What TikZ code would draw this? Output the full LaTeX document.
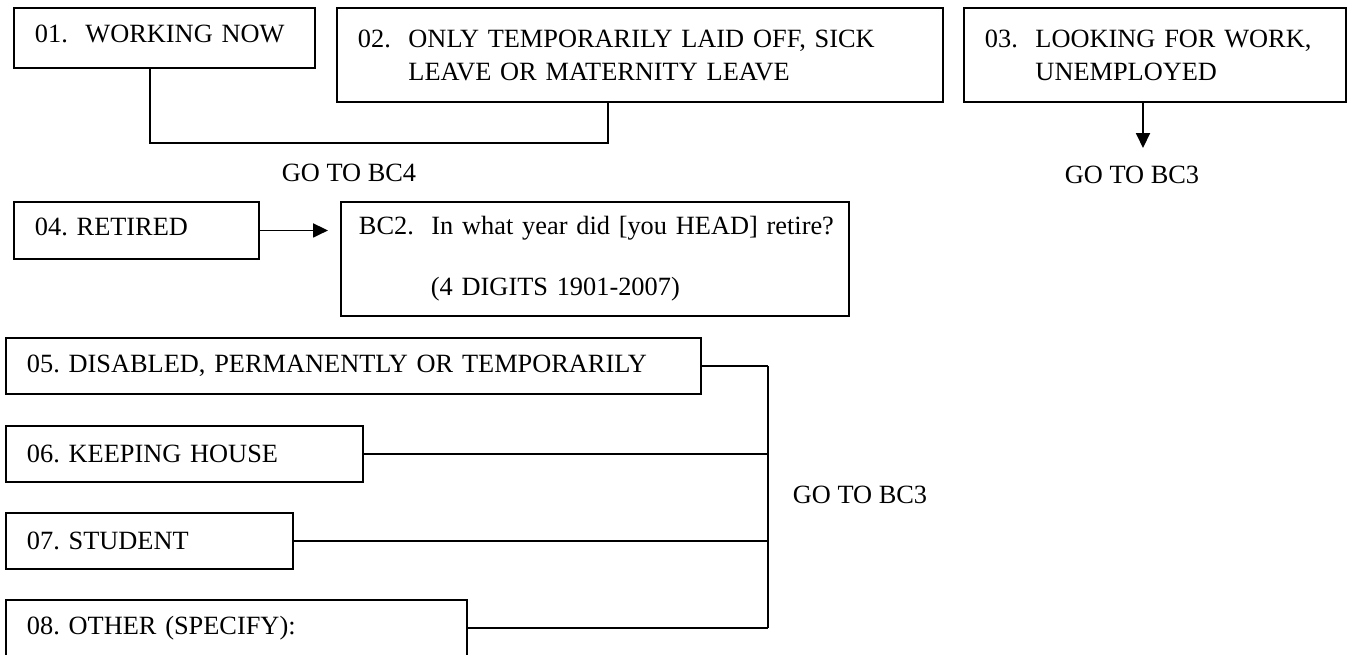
\documentclass[tikz,border=0pt]{standalone}
\usepackage{fontspec}
\setmainfont{Liberation Serif}
\usetikzlibrary{arrows.meta}
\tikzset{
	qbox/.style={draw, anchor=north west, align=left, inner xsep=0.42cm, inner ysep=0pt},
	goarrow/.style={-{Triangle[length=0.3cm,width=0.28cm]}},
}
\begin{document}
\begin{tikzpicture}[x=0.02cm,y=-0.02cm,line width=1.1pt,font=\fontsize{15pt}{18.75pt}\selectfont\frenchspacing]
		\useasboundingbox (0,0) rectangle (1352,654);
		% first row
		\node[qbox,text width=5.18cm,text depth=0.16cm,minimum height=1.2cm] (w01) at (13,7) {01.\ \ WORKING NOW};
		\node[qbox,text width=11.28cm,minimum height=1.88cm] (w02) at (336,7) {02.\ \ ONLY TEMPORARILY LAID OFF, SICK\\\phantom{02.\ \ }LEAVE OR MATERNITY LEAVE};
		\node[qbox,text width=6.8cm,minimum height=1.88cm] (w03) at (963,7) {03.\ \ LOOKING FOR WORK,\\\phantom{03.\ \ }UNEMPLOYED};
		% retired
		\node[qbox,text width=4.06cm,text depth=0.16cm,minimum height=1.14cm] (r04) at (13,201) {04. RETIRED};
		\node[qbox,inner xsep=0.36cm,text width=9.44cm,minimum height=2.28cm] (bc2) at (340,201) {\mbox{BC2.\ \ In what year did [you HEAD] retire?}\\[0.56cm]\hspace*{1.44cm}(4 DIGITS 1901-2007)};
		% rest
		\node[qbox,text width=13.06cm,minimum height=1.12cm] (d05) at (5,337) {05. DISABLED, PERMANENTLY OR TEMPORARILY};
		\node[qbox,text width=6.3cm,minimum height=1.12cm] (k06) at (5,425) {06. KEEPING HOUSE};
		\node[qbox,text width=4.9cm,minimum height=1.12cm] (s07) at (5,512) {07. STUDENT};
		\node[qbox,text width=8.38cm,minimum height=1.12cm] (o08) at (5,599) {08. OTHER (SPECIFY):};
		% go to
		\node (g4) at (349,173) {GO TO BC4};
		\node (g3) at (1132,175) {GO TO BC3};
		\node (g3b) at (860,495) {GO TO BC3};
		% joins
		\coordinate (j1) at (150,143);
		\coordinate (j2) at (608,143);
		\draw (j1 |- w01.south) -- (j1) -- (j2) -- (j2 |- w02.south);
		\coordinate (t3) at (1143,148);
		\draw[goarrow] (t3 |- w03.south) -- (t3);
		\draw[goarrow,shorten >=0.24cm] (r04.east) -- (r04.east -| bc2.west);
		\coordinate (j3) at (768,0);
		\foreach \b in {d05,k06,s07,o08}
		\draw (\b.east) -- (\b.east -| j3);
		\draw (d05.east -| j3) -- (o08.east -| j3);
\end{tikzpicture}
\end{document}
